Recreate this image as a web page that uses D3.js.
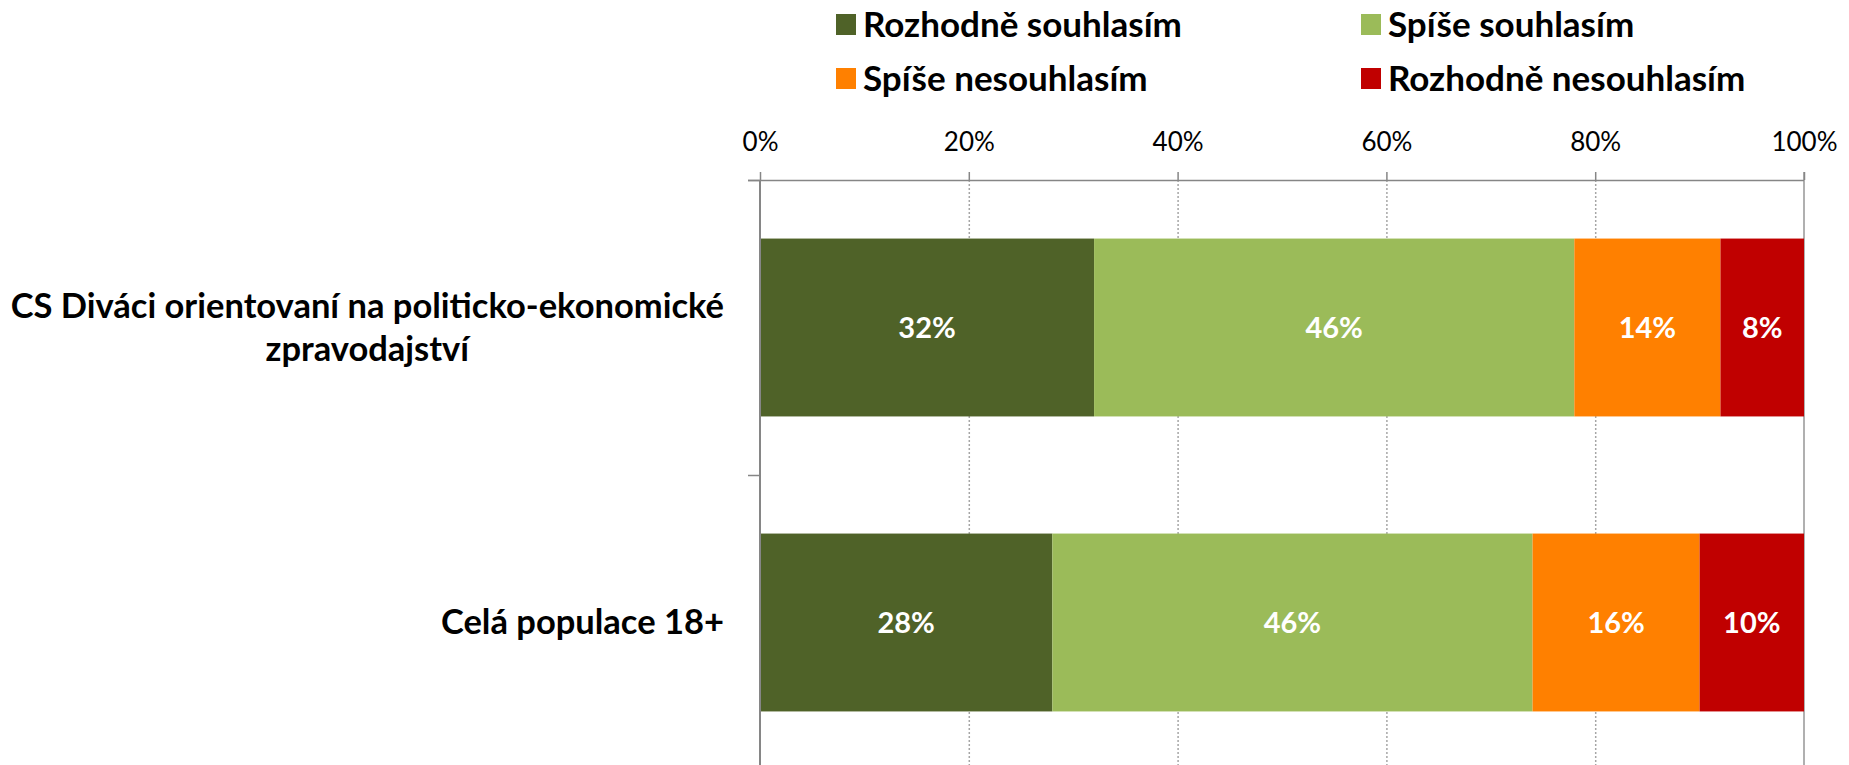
<!DOCTYPE html>
<html>
<head>
<meta charset="utf-8">
<script src="https://cdn.jsdelivr.net/npm/d3@7"></script>
<style>
  body { margin: 0; background: #fff; }
  svg { display: block; font-family: Lato, "Liberation Sans", sans-serif; }
</style>
</head>
<body>
<div id="chart"></div>
<script>
// data
var categories = ["CS Diváci orientovaní na politicko-ekonomické zpravodajství", "Celá populace 18+"];
var categoryLines = [["CS Diváci orientovaní na politicko-ekonomické", "zpravodajství"], ["Celá populace 18+"]];
var seriesNames = ["Rozhodně souhlasím", "Spíše souhlasím", "Spíše nesouhlasím", "Rozhodně nesouhlasím"];
var rozhodneSouhlasim = [32, 28];
var spiseSouhlasim = [46, 46];
var spiseNesouhlasim = [14, 16];
var rozhodneNesouhlasim = [8, 10];
var xTicks = [0, 20, 40, 60, 80, 100];

var colors = ["#4F6228", "#9BBB59", "#FF8000", "#C00000"];

var W = 1849, H = 765;
var margin = { top: 180, right: 45, bottom: -5, left: 760 };

var svg = d3.select("#chart").append("svg")
    .attr("width", W)
    .attr("height", H);

svg.append("rect").attr("width", W).attr("height", H).attr("fill", "#fff");

// table for the stack
var table = categories.map(function(c, i) {
    return {
        cat: c,
        "Rozhodně souhlasím": rozhodneSouhlasim[i],
        "Spíše souhlasím": spiseSouhlasim[i],
        "Spíše nesouhlasím": spiseNesouhlasim[i],
        "Rozhodně nesouhlasím": rozhodneNesouhlasim[i]
    };
});
var stacked = d3.stack().keys(seriesNames)(table);

var x = d3.scaleLinear()
    .domain([0, 100])
    .range([margin.left, W - margin.right]);

var pad = 0.397;
var y = d3.scaleBand()
    .domain(categories)
    .range([margin.top, H - margin.bottom])
    .paddingInner(pad)
    .paddingOuter(pad / 2);

var color = d3.scaleOrdinal().domain(seriesNames).range(colors);

var yTop = margin.top, yBot = H - margin.bottom;

// dotted gridlines
svg.append("g")
    .selectAll("line")
    .data(xTicks.filter(function(t) { return t > 0 && t < 100; }))
    .enter().append("line")
    .attr("x1", function(d) { return x(d) + 0.5; })
    .attr("x2", function(d) { return x(d) + 0.5; })
    .attr("y1", yTop)
    .attr("y2", yBot)
    .attr("stroke", "#a6a6a6")
    .attr("stroke-width", 1.5)
    .attr("stroke-dasharray", "2,2");

// right border
svg.append("line")
    .attr("x1", x(100)).attr("x2", x(100))
    .attr("y1", yTop - 8).attr("y2", yBot)
    .attr("stroke", "#868686").attr("stroke-width", 1.3);

// bars
var groups = svg.append("g")
    .selectAll("g")
    .data(stacked)
    .enter().append("g")
    .attr("fill", function(d) { return color(d.key); });

groups.selectAll("rect")
    .data(function(d) { return d; })
    .enter().append("rect")
    .attr("x", function(d) { return x(d[0]); })
    .attr("width", function(d) { return x(d[1]) - x(d[0]); })
    .attr("y", function(d) { return y(d.data.cat); })
    .attr("height", y.bandwidth());

// data labels
groups.selectAll("text")
    .data(function(d) { return d; })
    .enter().append("text")
    .attr("x", function(d) { return (x(d[0]) + x(d[1])) / 2; })
    .attr("y", function(d) { return y(d.data.cat) + y.bandwidth() / 2; })
    .attr("dy", "0.36em")
    .attr("text-anchor", "middle")
    .attr("fill", "#fff")
    .style("font-weight", "bold")
    .style("font-size", "29px")
    .text(function(d) { return (d[1] - d[0]) + "%"; });

// top axis
var xAxis = svg.append("g")
    .attr("transform", "translate(0," + yTop + ")")
    .call(d3.axisTop(x)
        .tickValues(xTicks)
        .tickSize(8)
        .tickPadding(21)
        .tickFormat(function(d) { return d + "%"; }));

xAxis.select(".domain")
    .attr("d", "M" + (x(0) - 12) + ",0.5H" + x(100))
    .attr("stroke", "#868686")
    .attr("stroke-width", 1.5);
xAxis.selectAll(".tick line")
    .attr("stroke", "#868686")
    .attr("stroke-width", 1.5);
xAxis.selectAll(".tick text")
    .attr("fill", "#000")
    .style("font-size", "26px")
    .style("font-family", "Lato, 'Liberation Sans', sans-serif");

// left category axis
svg.append("line")
    .attr("x1", x(0)).attr("x2", x(0))
    .attr("y1", yTop).attr("y2", yBot)
    .attr("stroke", "#868686").attr("stroke-width", 2);

var step = y.step();
var boundaries = categories.map(function(c) { return y(c) - step * pad / 2; });
boundaries.push(boundaries[boundaries.length - 1] + step);
svg.append("g")
    .selectAll("line")
    .data(boundaries)
    .enter().append("line")
    .attr("x1", x(0) - 12).attr("x2", x(0))
    .attr("y1", function(d) { return d + 0.5; })
    .attr("y2", function(d) { return d + 0.5; })
    .attr("stroke", "#868686").attr("stroke-width", 1.5);

// category labels, each block centered on its longest line, right edge at 724
var labelRight = 724, lineH = 43;
categories.forEach(function(c, i) {
    var lines = categoryLines[i];
    var g = svg.append("g");
    var texts = g.selectAll("text")
        .data(lines)
        .enter().append("text")
        .style("font-weight", "bold")
        .style("font-size", "34.5px")
        .attr("text-anchor", "middle")
        .attr("fill", "#000")
        .text(function(d) { return d; });
    var maxW = d3.max(texts.nodes(), function(n) { return n.getComputedTextLength(); });
    var cy = y(c) + y.bandwidth() / 2;
    texts.attr("x", labelRight - maxW / 2)
        .attr("y", function(d, j) { return cy + (j - (lines.length - 1) / 2) * lineH; })
        .attr("dy", "0.34em");
});

// legend
var legend = svg.append("g")
    .selectAll("g")
    .data(seriesNames)
    .enter().append("g")
    .attr("transform", function(d, i) {
        return "translate(" + (836 + (i % 2) * 525) + "," + (14 + Math.floor(i / 2) * 54) + ")";
    });

legend.append("rect")
    .attr("width", 20).attr("height", 21)
    .attr("fill", function(d) { return color(d); });

legend.append("text")
    .attr("x", 27)
    .attr("y", 10.5)
    .attr("dy", "0.35em")
    .style("font-weight", "bold")
    .style("font-size", "35px")
    .attr("fill", "#000")
    .text(function(d) { return d; });
</script>
</body>
</html>
